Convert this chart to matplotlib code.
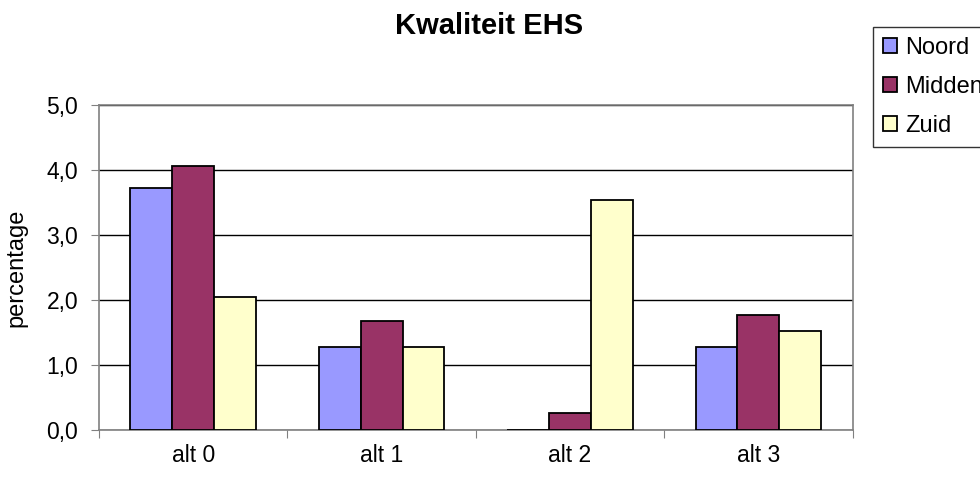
import matplotlib.pyplot as plt
import numpy as np

plt.rcParams['font.family'] = ['Liberation Sans', 'DejaVu Sans']

# categorieen en waarden per regio
alternatieven = ['alt 0', 'alt 1', 'alt 2', 'alt 3']
noord = [3.73, 1.28, 0.0, 1.28]
midden = [4.07, 1.68, 0.27, 1.78]
zuid = [2.05, 1.28, 3.55, 1.53]

regio_namen = ['Noord', 'Midden', 'Zuid']
kleuren = ['#9999FF', '#993366', '#FFFFCC']

fig = plt.figure(figsize=(9.8, 4.79), dpi=100)
ax = fig.add_axes([0.101, 0.102, 0.769, 0.678])

x = np.arange(len(alternatieven))
breedte = 0.667 / 3  # gap width 150%

for i, (waarden, naam, kleur) in enumerate(zip([noord, midden, zuid], regio_namen, kleuren)):
    ax.bar(x + (i - 1) * breedte, waarden, breedte, color=kleur, edgecolor='black',
           linewidth=1.3, label=naam, zorder=3)

ax.set_xlim(-0.5, len(alternatieven) - 0.5)
ax.set_ylim(0, 5)
ax.set_yticks(np.arange(0, 5.1, 1))
ax.set_yticklabels([f'{v:.1f}'.replace('.', ',') for v in np.arange(0, 5.1, 1)], fontsize=16.5)
ax.yaxis.grid(True, color='black', linewidth=1, zorder=0)

# x-tickmarks op de grenzen tussen categorieen, labels in het midden
ax.set_xticks(np.arange(-0.5, len(alternatieven), 1))
ax.set_xticklabels([])
ax.set_xticks(x, minor=True)
ax.set_xticklabels(alternatieven, minor=True, fontsize=16.5)
ax.tick_params(axis='x', which='minor', length=0, pad=10)
ax.tick_params(axis='x', which='major', length=6, color='#808080', direction='out')
ax.tick_params(axis='y', length=6, color='#808080', direction='out', pad=9)

for kant in ['top', 'right', 'left', 'bottom']:
    ax.spines[kant].set_color('#808080')
    ax.spines[kant].set_linewidth(1.2)

ax.set_ylabel('percentage', fontsize=17, labelpad=14)
fig.text(0.4995, 0.946, 'Kwaliteit EHS', ha='center', va='center', fontsize=21, fontweight='bold')

# legenda loopt net over de rechterrand, zoals in de originele grafiek
leg = fig.legend(loc='upper left', bbox_to_anchor=(873 / 980, 1 - 27 / 479), fontsize=17,
                 frameon=True, fancybox=False, handlelength=0.6, handleheight=0.6,
                 handletextpad=0.34, labelspacing=0.72, borderpad=0.42, borderaxespad=0)
leg.get_frame().set_edgecolor('black')
leg.get_frame().set_linewidth(1)

fig.savefig('out.png', dpi=100)
